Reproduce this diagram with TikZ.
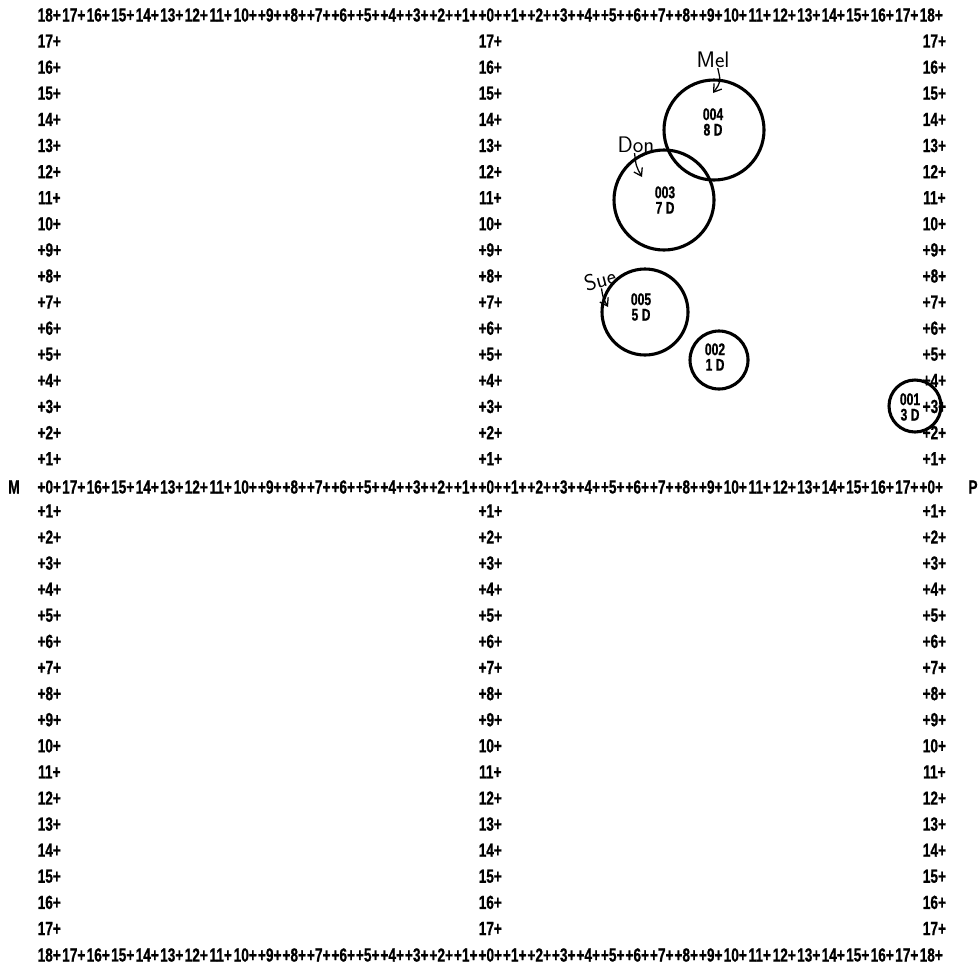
\documentclass[tikz,border=0pt]{standalone}
\usepackage{fontspec}
\newfontfamily\dotfont[FakeStretch=0.72,FakeBold=0.8]{Liberation Sans}
\usepackage{tikz}
\usetikzlibrary{arrows.meta}
\newcommand{\axlab}[1]{\ifnum#1<10 +#1+\else#1+\fi}

\begin{document}
\begin{tikzpicture}[x=0.25mm,y=-0.25mm,
 tick/.style={inner sep=0pt,font=\dotfont\bfseries\fontsize{13.5}{13.5}\selectfont},
 ring/.style={draw,circle,line width=2.2pt,inner sep=0pt},
 code/.style={inner sep=0pt,align=center,font=\dotfont\bfseries\fontsize{12}{11}\selectfont},
 hand/.style={inner sep=0pt,font=\sffamily\fontsize{16}{16}\selectfont},
 pen/.style={line width=0.9pt},
 >={Straight Barb[length=1.8mm,width=2.4mm]}]
\useasboundingbox (0,0) rectangle (979,968);
% axis rows
\foreach \i in {0,...,36}{
 \pgfmathtruncatemacro{\n}{abs(18-\i)}
 \pgfmathtruncatemacro{\m}{mod(abs(18-\i),18)}
 \node[tick] (ta\i) at ({37+24.5*(\i+0.5)},15) {\axlab{\n}};
 \node[tick] (ma\i) at ({37+24.5*(\i+0.5)},487) {\axlab{\m}};
 \node[tick] (ba\i) at ({37+24.5*(\i+0.5)},955) {\axlab{\n}};
}
\node[tick] (west) at (14,487) {M};
\node[tick] (east) at (973,487) {P};
% column labels
\foreach \v in {1,...,17}{
 \foreach \c/\xx in {l/49.3,m/490.3,r/934.4}{
  \node[tick] (\c u\v) at (\xx,{15+26.1*(18-\v)}) {\axlab{\v}};
  \node[tick] (\c d\v) at (\xx,{15+26.1*(18+\v)}) {\axlab{\v}};
 }
}
% circles
\node[ring,minimum size=25mm] (c004) at (714,130) {};
\node[ring,minimum size=25mm] (c003) at (664,200) {};
\node[ring,minimum size=21.5mm] (c005) at (645,312) {};
\node[ring,minimum size=14.5mm] (c002) at (719,360) {};
\node[ring,minimum size=13mm] (c001) at (915,406) {};
\node[code] (t004) at (713,122) {004\\8 D};
\node[code] (t003) at (665,200) {003\\7 D};
\node[code] (t005) at (641,307) {005\\5 D};
\node[code] (t002) at (715,357) {002\\1 D};
\node[code] (t001) at (910,407) {001\\3 D};
% names
\node[hand] (mel) at (713,60) {Mel};
\node[hand] (don) at (636,145) {Don};
\node[hand,rotate=15] (sue) at (600,280) {Sue};
\coordinate (melpt) at (713,93);
\coordinate (donpt) at (642,177);
\coordinate (suept) at (608,307);
\draw[pen,->] (mel.-60) .. controls (721,82) .. (melpt);
\draw[pen,->] (don.-100) .. controls (636,166) .. (donpt);
\draw[pen,->] (sue.-95) .. controls (603,298) .. (suept);
\end{tikzpicture}
\end{document}
